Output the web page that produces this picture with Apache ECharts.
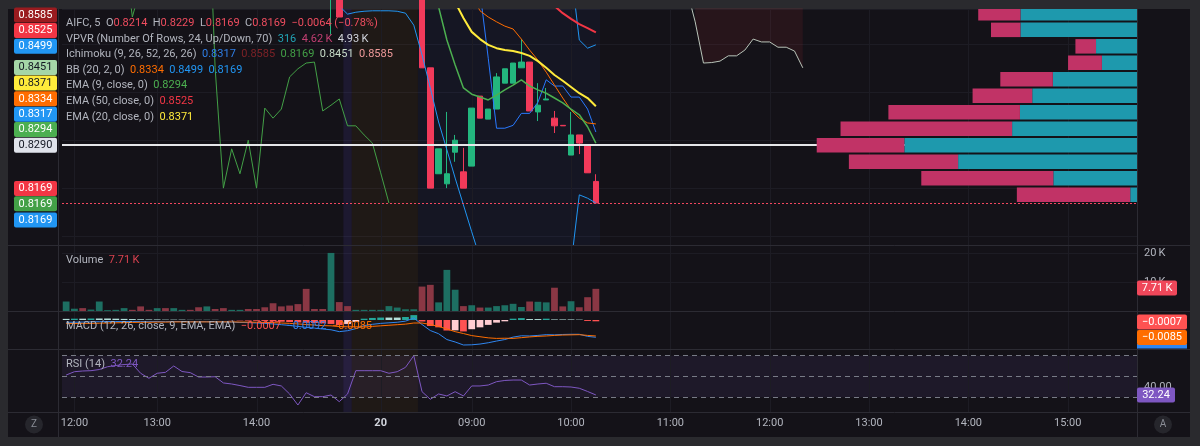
<!DOCTYPE html>
<html>
<head>
<meta charset="utf-8">
<title>AIFC, 5</title>
<script src="https://cdn.jsdelivr.net/npm/echarts@6.0.0/dist/echarts.min.js"></script>
<style>
html,body{margin:0;padding:0;background:#2a2a2e;overflow:hidden;}
#chart{width:1200px;height:446px;}
</style>
</head>
<body>
<div id="chart"></div>
<script>
// ================= DATA =================
// time axis (bar slots, 5-minute bars)
const slotCount = 130;
const tickIndex = [1, 11, 23, 38, 49, 61, 73, 85, 97, 109, 121];
const tickLabel = ['12:00', '13:00', '14:00', '20', '09:00', '10:00', '11:00', '12:00', '13:00', '14:00', '15:00'];

// candles that reach the visible price range (bar index + OHLC)
const candleIndex = [32, 33, 43, 44, 45, 46, 47, 48, 49, 50, 51, 52, 53, 54, 55, 56, 57, 58, 59, 60, 61, 62, 63, 64];
const candleOpen  = [0.8610, 0.8700, 0.8900, 0.8451, 0.8230, 0.8209, 0.8275, 0.8234, 0.8246, 0.8392, 0.8344, 0.8365, 0.8419, 0.8419, 0.8451, 0.8463, 0.8359, 0.8384, 0.8346, 0.8331, 0.8269, 0.8311, 0.8290, 0.8214];
const candleHigh  = [0.8720, 0.8710, 0.8900, 0.8451, 0.8282, 0.8359, 0.8311, 0.8284, 0.8367, 0.8392, 0.8365, 0.8440, 0.8449, 0.8461, 0.8511, 0.8463, 0.8419, 0.8409, 0.8361, 0.8331, 0.8359, 0.8311, 0.8290, 0.8229];
const candleLow   = [0.8520, 0.8557, 0.8451, 0.8200, 0.8230, 0.8200, 0.8255, 0.8200, 0.8246, 0.8346, 0.8344, 0.8365, 0.8419, 0.8419, 0.8451, 0.8361, 0.8340, 0.8384, 0.8315, 0.8330, 0.8269, 0.8271, 0.8232, 0.8169];
const candleClose = [0.8700, 0.8557, 0.8451, 0.8200, 0.8282, 0.8230, 0.8300, 0.8200, 0.8367, 0.8346, 0.8365, 0.8432, 0.8449, 0.8461, 0.8463, 0.8361, 0.8373, 0.8386, 0.8330, 0.8330, 0.8311, 0.8294, 0.8232, 0.8169];

// volume per bar (bars 0..64) and direction (1 = up bar)
const volume = [3300, 800, 1000, 500, 3300, 300, 400, 1000, 400, 1600,
  400, 1000, 1000, 1000, 400, 400, 1300, 1600, 700, 1000,
  400, 400, 700, 700, 1300, 2700, 1600, 1900, 2400, 7700,
  700, 700, 20200, 3100, 1700, 400, 400, 400, 400, 1700,
  1200, 600, 600, 8500, 9100, 3000, 14300, 7400, 1700, 2000,
  1200, 1200, 1700, 2000, 2500, 1400, 3300, 3200, 3000, 8100,
  1600, 3400, 1300, 4800, 7710];
const volumeUp = [1, 1, 0, 1, 1, 1, 1, 1, 0, 0,
  0, 1, 0, 1, 1, 0, 0, 1, 0, 0,
  1, 1, 0, 0, 0, 0, 0, 0, 0, 0,
  0, 0, 1, 0, 0, 1, 1, 1, 1, 1,
  1, 1, 1, 0, 0, 1, 1, 1, 0, 1,
  0, 1, 1, 1, 1, 1, 0, 1, 1, 0,
  0, 1, 0, 0, 0];

// overlays (start bar index + values)
const ema9Start = 44;
const ema9 = [0.8650, 0.8578, 0.8509, 0.8457, 0.8409, 0.8396, 0.8390, 0.8384, 0.8394, 0.8405, 0.8415, 0.8426, 0.8413, 0.8405, 0.8398, 0.8388, 0.8378, 0.8365, 0.8353, 0.8328, 0.8294];
const ema20Start = 45;
const ema20 = [0.8666, 0.8624, 0.8588, 0.8555, 0.8526, 0.8511, 0.8499, 0.8492, 0.8488, 0.8486, 0.8482, 0.8476, 0.8465, 0.8451, 0.8436, 0.8424, 0.8411, 0.8398, 0.8388, 0.8371];
const ema50Start = 57;
const ema50 = [0.8607, 0.8595, 0.8580, 0.8565, 0.8553, 0.8542, 0.8534, 0.8525];
const bbBasisStart = 48;
const bbBasis = [0.8655, 0.8603, 0.8570, 0.8557, 0.8547, 0.8538, 0.8532, 0.8511, 0.8488, 0.8467, 0.8442, 0.8415, 0.8388, 0.8363, 0.8346, 0.8336, 0.8334];
const bbUpperStart = 61;
const bbUpper = [0.8655, 0.8509, 0.8492, 0.8499];
const bbLowerStart = 33;
const bbLower = [0.8580, 0.8563, 0.8567, 0.8569, 0.8570, 0.8570, 0.8570, 0.8569, 0.8565, 0.8540,
  0.8478, 0.8409, 0.8338, 0.8280, 0.8221, 0.8165, 0.8109, 0.8054, 0.8010, 0.7990,
  0.7985, 0.7990, 0.8000, 0.8010, 0.8015, 0.8020, 0.8025, 0.8030, 0.8040, 0.8186,
  0.8179, 0.8169];
const convStart = 50;
const conversion = [0.8610, 0.8471, 0.8325, 0.8325, 0.8331, 0.8356, 0.8356, 0.8379, 0.8426, 0.8413, 0.8413, 0.8390, 0.8390, 0.8365, 0.8317];
const lagStart = 0;
const lagSpan = [0.8620, 0.8620, 0.8620, 0.8620, 0.8620, 0.8620, 0.8620, 0.8700, 0.8557,
  0.8620, 0.8620, 0.8620, 0.8620, 0.8620, 0.8620, 0.8620, 0.8620, 0.8900,
  0.8451, 0.8200, 0.8282, 0.8230, 0.8300, 0.8200, 0.8367, 0.8346, 0.8365, 0.8432, 0.8449,
  0.8461, 0.8463, 0.8361, 0.8373, 0.8386, 0.8330, 0.8330, 0.8311, 0.8294, 0.8232, 0.8169];
const leadStart = 75;
const leadA = [0.8614, 0.8547, 0.8461, 0.8462, 0.8465, 0.8476, 0.8476, 0.8488, 0.8511, 0.8505, 0.8505, 0.8494, 0.8494, 0.8486, 0.8451];
const leadB = [0.8585, 0.8585, 0.8585, 0.8585, 0.8585, 0.8585, 0.8585, 0.8585, 0.8585, 0.8585, 0.8585, 0.8585, 0.8585, 0.8585, 0.8585];

// volume profile (visible rows, bottom to top)
const vpRowBase = 0.8169;
const vpRowStep = 0.00344;
const vpUp   = [316, 3450, 7330, 9520, 5130, 4810, 4310, 3470, 1470, 1710, 4790, 4790];
const vpDown = [4620, 5380, 4450, 3570, 6990, 5360, 2430, 2140, 1380, 840, 1200, 1720];
const vpPoc = 0.8290;

// MACD (12, 26, 9) per bar 0..64
const macdLine = [-0.0012, -0.0012, -0.0011, -0.0010, -0.0009, -0.0008, -0.0008, -0.0008, -0.0008, -0.0008,
  -0.0009, -0.0008, -0.0009, -0.0008, -0.0008, -0.0009, -0.0009, -0.0009, -0.0009, -0.0010,
  -0.0011, -0.0013, -0.0014, -0.0016, -0.0018, -0.0021, -0.0025, -0.0029, -0.0034, -0.0039,
  -0.0043, -0.0048, -0.0052, -0.0062, -0.0057, -0.0046, -0.0030, -0.0023, -0.0018, -0.0015,
  -0.0012, -0.0006, 0.0010, -0.0024, -0.0056, -0.0073, -0.0104, -0.0117, -0.0133, -0.0132,
  -0.0128, -0.0121, -0.0112, -0.0104, -0.0091, -0.0084, -0.0085, -0.0082, -0.0078, -0.0079,
  -0.0077, -0.0076, -0.0076, -0.0087, -0.0092];
const macdSignal = [-0.0018, -0.0019, -0.0018, -0.0018, -0.0017, -0.0016, -0.0015, -0.0014, -0.0013, -0.0012,
  -0.0012, -0.0011, -0.0011, -0.0010, -0.0010, -0.0010, -0.0010, -0.0010, -0.0010, -0.0010,
  -0.0010, -0.0011, -0.0011, -0.0012, -0.0013, -0.0014, -0.0016, -0.0018, -0.0021, -0.0024,
  -0.0027, -0.0030, -0.0031, -0.0035, -0.0036, -0.0036, -0.0037, -0.0034, -0.0031, -0.0028,
  -0.0025, -0.0022, -0.0016, -0.0016, -0.0024, -0.0034, -0.0048, -0.0062, -0.0072, -0.0083,
  -0.0089, -0.0095, -0.0098, -0.0097, -0.0098, -0.0094, -0.0090, -0.0087, -0.0085, -0.0082,
  -0.0080, -0.0079, -0.0078, -0.0082, -0.0085];
const macdHist = [0.0006, 0.0007, 0.0007, 0.0008, 0.0008, 0.0008, 0.0007, 0.0006, 0.0005, 0.0004,
  0.0003, 0.0003, 0.0002, 0.0002, 0.0002, 0.0001, 0.0001, 0.0001, 0.0001, 0.0000,
  -0.0001, -0.0002, -0.0003, -0.0004, -0.0005, -0.0007, -0.0009, -0.0011, -0.0013, -0.0015,
  -0.0016, -0.0018, -0.0021, -0.0027, -0.0021, -0.0010, 0.0007, 0.0011, 0.0013, 0.0013,
  0.0013, 0.0016, 0.0026, -0.0008, -0.0032, -0.0039, -0.0056, -0.0055, -0.0061, -0.0049,
  -0.0039, -0.0026, -0.0014, -0.0007, 0.0007, 0.0010, 0.0005, 0.0005, 0.0007, 0.0003,
  0.0003, 0.0003, 0.0002, -0.0005, -0.0007];

// RSI (14) per bar 0..64
const rsi = [51.4, 54.6, 55.3, 55.6, 56.7, 59.4, 60.6, 61.5, 62.0, 53.1,
  48.3, 53.1, 54.0, 60.1, 54.8, 53.7, 49.5, 49.5, 49.8, 43.8,
  42.8, 41.3, 39.6, 39.6, 39.6, 42.5, 40.9, 33.2, 22.6, 34.4,
  30.6, 30.6, 32.2, 25.8, 33.2, 55.6, 55.6, 55.6, 55.6, 53.1,
  54.6, 58.8, 70.0, 35.4, 28.1, 33.2, 31.3, 35.4, 31.3, 40.9,
  40.9, 41.8, 45.0, 46.2, 46.6, 46.6, 41.8, 42.8, 43.5, 40.2,
  40.2, 39.9, 38.7, 35.6, 32.24];
const rsiLevels = [70, 50, 30];

// sessions (extended hours shading)
const sessionStart = [34, 35, 43];
const sessionEnd = [34, 42, 64];
const sessionKind = ['post', 'pre', 'regular'];

// axis ranges
const priceMin = 0.808138, priceMax = 0.857372;
const volMax = 22960;
const macdMin = -0.01543, macdMax = 0.00479;
const rsiMin = 15.87, rsiMax = 76.44;
const vpXMax = 43840;

// ================= STYLE =================
const FONT = 'Roboto, "Noto Sans", "Liberation Sans", sans-serif';
const COL = {
  frame: '#2a2a2e', bg: '#141218', sep: '#2c2b33', grid: '#1d1c24', text: '#b2b5be',
  up: '#23b67e', down: '#f23a5a', volUp: '#1d6f62', volDown: '#8a3744',
  vpUp: '#1e99ad', vpDown: '#c13366'
};
const sessionFill = { post: 'rgba(94,80,220,0.13)', pre: 'rgba(255,152,0,0.05)', regular: 'rgba(60,100,255,0.05)' };

// ================= BUILD =================
const cats = Array.from({ length: slotCount }, (_, i) => String(i));
function place(start, vals) {
  const a = new Array(slotCount).fill('-');
  vals.forEach((v, k) => { a[start + k] = v; });
  return a;
}
const L = 62, R = 62;
const grids = [
  { left: L, right: R, top: 9, height: 236 },
  { left: L, right: R, top: 245, height: 66 },
  { left: L, right: R, top: 311, height: 38 },
  { left: L, right: R, top: 349, height: 63 },
  { left: L, right: R, top: 9, height: 236 }
].map(g => Object.assign({ outerBoundsMode: 'none', containLabel: false, show: false }, g));

function catAxis(g, showLabel) {
  return {
    type: 'category', gridIndex: g, data: cats, boundaryGap: true,
    axisLine: { show: false }, axisTick: { show: false }, splitLine: { show: false },
    axisLabel: showLabel ? {
      show: true, color: COL.text, fontSize: 11, fontFamily: FONT, margin: 6,
      interval: (index) => tickIndex.indexOf(index) >= 0,
      formatter: (value) => {
        const k = tickIndex.indexOf(Number(value));
        if (k < 0) return '';
        return tickLabel[k] === '20' ? '{d|20}' : tickLabel[k];
      },
      rich: { d: { color: '#d1d4dc', fontWeight: 'bold', fontSize: 11, fontFamily: FONT } }
    } : { show: false }
  };
}

function sessionSeries(g, withRegular) {
  const data = [];
  sessionStart.forEach((s, k) => {
    if (withRegular || sessionKind[k] !== 'regular') data.push([s, sessionEnd[k], k]);
  });
  return {
    type: 'custom', xAxisIndex: g, yAxisIndex: g, silent: true, z: 0, data,
    renderItem(params, api) {
      const s = api.value(0), e = api.value(1), k = api.value(2);
      const w = api.size([1, 0])[0];
      const x0 = api.coord([s, 0])[0] - w / 2;
      const x1 = api.coord([e, 0])[0] + w / 2;
      const cs = params.coordSys;
      return { type: 'rect', shape: { x: x0, y: cs.y, width: x1 - x0, height: cs.height }, style: { fill: sessionFill[sessionKind[k]] } };
    }
  };
}
function hourGridSeries(g) {
  return {
    type: 'custom', xAxisIndex: g, yAxisIndex: g, silent: true, z: 1,
    data: tickIndex.map(i => [i, 0]),
    renderItem(params, api) {
      const x = Math.round(api.coord([api.value(0), 0])[0]) + 0.5;
      const cs = params.coordSys;
      return { type: 'line', shape: { x1: x, y1: cs.y, x2: x, y2: cs.y + cs.height }, style: { stroke: COL.grid, lineWidth: 1 } };
    }
  };
}
function lineSeries(start, vals, color, width, z) {
  return {
    type: 'line', xAxisIndex: 0, yAxisIndex: 0, data: place(start, vals), symbol: 'none', showSymbol: false,
    lineStyle: { color, width }, itemStyle: { color }, z: z || 4, silent: true, clip: true
  };
}

const kumoBase = leadA.map((a, k) => (leadB[k] >= a ? a : '-'));
const kumoFill = leadA.map((a, k) => (leadB[k] >= a ? +(leadB[k] - a).toFixed(5) : '-'));

const candleData = candleIndex.map((x, k) => [x, candleOpen[k], candleClose[k], candleLow[k], candleHigh[k]]);
const lastClose = candleClose[candleClose.length - 1];

const histColor = macdHist.map((h, k) => {
  const p = k > 0 ? macdHist[k - 1] : h;
  if (h >= 0) return p < h ? '#26a69a' : '#b2dfdb';
  return p < h ? '#ffcdd2' : '#ff5252';
});

const vpData = vpUp.map((u, k) => [vpRowBase + k * vpRowStep, u, vpDown[k]]);

const series = [
  sessionSeries(0, true), sessionSeries(1, false), sessionSeries(2, false), sessionSeries(3, false),
  hourGridSeries(0), hourGridSeries(1), hourGridSeries(2), hourGridSeries(3),
  // Ichimoku cloud (between leading spans)
  { type: 'line', xAxisIndex: 0, yAxisIndex: 0, stack: 'kumo', data: place(leadStart, kumoBase), symbol: 'none', lineStyle: { opacity: 0 }, silent: true, z: 1 },
  { type: 'line', xAxisIndex: 0, yAxisIndex: 0, stack: 'kumo', data: place(leadStart, kumoFill), symbol: 'none', lineStyle: { opacity: 0 }, areaStyle: { color: 'rgba(242,54,69,0.12)' }, silent: true, z: 1 },
  lineSeries(leadStart, leadA, '#b9c4b9', 1),
  lineSeries(leadStart, leadB, '#ef9a9a', 1),
  lineSeries(lagStart, lagSpan, '#43a047', 1),
  lineSeries(convStart, conversion, '#2979ff', 1),
  lineSeries(bbLowerStart, bbLower, '#2196f3', 1),
  lineSeries(bbUpperStart, bbUpper, '#2196f3', 1),
  lineSeries(bbBasisStart, bbBasis, '#ff6d00', 1),
  lineSeries(ema50Start, ema50, '#f23645', 2),
  lineSeries(ema20Start, ema20, '#ffeb3b', 2),
  lineSeries(ema9Start, ema9, '#4caf50', 1.5),
  {
    type: 'candlestick', xAxisIndex: 0, yAxisIndex: 0, data: candleData, encode: { x: 0, y: [1, 2, 3, 4] },
    barWidth: '72%', clip: true, z: 3, silent: true,
    itemStyle: { color: COL.up, color0: COL.down, borderColor: COL.up, borderColor0: COL.down, borderWidth: 1 },
    markLine: {
      silent: true, symbol: 'none', precision: 5, label: { show: false },
      lineStyle: { color: '#f2475f', type: [2, 2], width: 1, opacity: 1 },
      data: [{ yAxis: lastClose }]
    }
  },
  {
    type: 'custom', xAxisIndex: 4, yAxisIndex: 4, data: vpData, z: 6, silent: true,
    encode: { y: 0, x: 1 },
    renderItem(params, api) {
      const low = api.value(0), up = api.value(1), dn = api.value(2);
      const yTop = api.coord([0, low + vpRowStep])[1] + 1;
      const yBot = api.coord([0, low])[1] - 1;
      const x0 = api.coord([0, low])[0];
      const x1 = api.coord([up, low])[0];
      const x2 = api.coord([up + dn, low])[0];
      const c = params.coordSys;
      const cs = { x: c.x, y: c.y, width: c.width, height: c.height };
      const r1 = echarts.graphic.clipRectByRect({ x: x1, y: yTop, width: x0 - x1, height: yBot - yTop }, cs);
      const r2 = echarts.graphic.clipRectByRect({ x: x2, y: yTop, width: x1 - x2, height: yBot - yTop }, cs);
      const children = [];
      if (r1) children.push({ type: 'rect', shape: r1, style: { fill: COL.vpUp } });
      if (r2) children.push({ type: 'rect', shape: r2, style: { fill: COL.vpDown } });
      return { type: 'group', children };
    },
    markLine: {
      silent: true, symbol: 'none', precision: 5, label: { show: false },
      lineStyle: { color: '#e6e7ea', type: 'solid', width: 2 },
      data: [{ yAxis: vpPoc }]
    }
  },
  // volume
  {
    type: 'bar', xAxisIndex: 1, yAxisIndex: 1, barWidth: '82%', silent: true, z: 3,
    data: volume.map((v, k) => ({ value: v, itemStyle: { color: volumeUp[k] ? COL.volUp : COL.volDown } }))
  },
  // MACD
  {
    type: 'bar', xAxisIndex: 2, yAxisIndex: 2, barWidth: '82%', silent: true, z: 3,
    data: macdHist.map((v, k) => ({ value: v, itemStyle: { color: histColor[k] } }))
  },
  { type: 'line', xAxisIndex: 2, yAxisIndex: 2, data: macdLine, symbol: 'none', lineStyle: { color: '#2f86f0', width: 1 }, silent: true, z: 4 },
  { type: 'line', xAxisIndex: 2, yAxisIndex: 2, data: macdSignal, symbol: 'none', lineStyle: { color: '#ff6d00', width: 1 }, silent: true, z: 4 },
  // RSI
  {
    type: 'line', xAxisIndex: 3, yAxisIndex: 3, data: rsi, symbol: 'none', lineStyle: { color: '#7e57c2', width: 1 }, silent: true, z: 4,
    markLine: {
      silent: true, symbol: 'none', precision: 2, label: { show: false },
      lineStyle: { color: '#787b86', type: [5, 4], width: 1 },
      data: rsiLevels.map(v => ({ yAxis: v }))
    },
    markArea: {
      silent: true, itemStyle: { color: 'rgba(126,87,194,0.10)' },
      data: [[{ yAxis: rsiLevels[2] }, { yAxis: rsiLevels[0] }]]
    }
  }
];

// ================= OVERLAY TEXT =================
const graphics = [];
graphics.push({ type: 'rect', z: -10, silent: true, shape: { x: 8, y: 9, width: 1182, height: 428 }, style: { fill: COL.bg } });
[245, 311, 349, 412].forEach(y => graphics.push({ type: 'line', z: 50, silent: true, shape: { x1: 8, y1: y + 0.5, x2: 1190, y2: y + 0.5 }, style: { stroke: COL.sep, lineWidth: 1 } }));
[58, 1137].forEach(x => graphics.push({ type: 'line', z: 50, silent: true, shape: { x1: x + 0.5, y1: 9, x2: x + 0.5, y2: 437 }, style: { stroke: COL.sep, lineWidth: 1 } }));

function richLine(x, y, parts) {
  const rich = {};
  let text = '';
  parts.forEach((p, k) => {
    rich['p' + k] = { fill: p[1], font: '11px ' + FONT };
    text += '{p' + k + '|' + p[0] + '}';
  });
  graphics.push({ type: 'text', x, y, z: 100, silent: true, style: { text, rich, font: '11px ' + FONT, fill: COL.text, verticalAlign: 'middle' } });
}
const G = COL.text, RED = '#ef4d5f';
richLine(66, 23.3, [['AIFC, 5  O', G], ['0.8214', RED], ['  H', G], ['0.8229', RED], ['  L', G], ['0.8169', RED], ['  C', G], ['0.8169', RED], ['  \u22120.0064 (\u22120.78%)', RED]]);
richLine(66, 39, [['VPVR (Number Of Rows, 24, Up/Down, 70)', G], ['  316', '#22a3b5'], ['  4.62\u2009K', '#c23f72'], ['  4.93\u2009K', '#d1d4dc']]);
richLine(66, 54.5, [['Ichimoku (9, 26, 52, 26, 26)', G], ['  0.8317', '#2f7fe8'], ['  0.8585', '#7d2227'], ['  0.8169', '#43a047'], ['  0.8451', '#c8dcc8'], ['  0.8585', '#ef9a9a']]);
richLine(66, 70, [['BB (20, 2, 0)', G], ['  0.8334', '#ff6d00'], ['  0.8499', '#2196f3'], ['  0.8169', '#2196f3']]);
richLine(66, 85.7, [['EMA (9, close, 0)', G], ['  0.8294', '#4caf50']]);
richLine(66, 101.2, [['EMA (50, close, 0)', G], ['  0.8525', '#f23645']]);
richLine(66, 116.8, [['EMA (20, close, 0)', G], ['  0.8371', '#ffeb3b']]);
richLine(66, 260, [['Volume', G], ['  7.71\u2009K', '#d9424f']]);
richLine(66, 326, [['MACD (12, 26, close, 9, EMA, EMA)', G], ['  \u22120.0007', '#ff5252'], ['  \u22120.0092', '#2f80ed'], ['  \u22120.0085', '#ff6d00']]);
richLine(66, 364, [['RSI (14)', G], ['  32.24', '#7e57c2']]);

function badge(x, yc, w, text, bg, fg) {
  graphics.push({ type: 'rect', z: 100, silent: true, shape: { x, y: yc - 7.5, width: w, height: 15, r: 2 }, style: { fill: bg } });
  graphics.push({ type: 'text', z: 101, silent: true, x: x + w / 2, y: yc, style: { text, align: 'center', verticalAlign: 'middle', fill: fg, font: '11px ' + FONT } });
}
const leftBadgeText = ['0.8585', '0.8525', '0.8499', '0.8451', '0.8371', '0.8334', '0.8317', '0.8294', '0.8290', '0.8169', '0.8169', '0.8169'];
const leftBadgeY = [15, 30.5, 46.3, 67.5, 83, 98.8, 114.2, 129.5, 145.2, 188.5, 203.8, 220];
const leftBadgeBg = ['#9a1b1f', '#f23645', '#2196f3', '#a5d6a7', '#ffeb3b', '#ff6d00', '#2196f3', '#4caf50', '#e0e3eb', '#f23645', '#43a047', '#2196f3'];
const leftBadgeFg = ['#ffffff', '#ffffff', '#ffffff', '#131722', '#131722', '#ffffff', '#ffffff', '#ffffff', '#131722', '#ffffff', '#ffffff', '#ffffff'];
leftBadgeText.forEach((t, k) => badge(14, leftBadgeY[k], 43, t, leftBadgeBg[k], leftBadgeFg[k]));

badge(1137, 288, 40, '7.71\u2009K', '#f0475a', '#ffffff');
badge(1137, 322, 50, '\u22120.0007', '#ff5252', '#ffffff');
graphics.push({ type: 'rect', z: 99, silent: true, shape: { x: 1137, y: 344, width: 50, height: 4.5 }, style: { fill: '#2f86f0' } });
badge(1137, 337.5, 50, '\u22120.0085', '#ff6d00', '#ffffff');
badge(1137, 395, 38, '32.24', '#7e57c2', '#ffffff');

[[34, 'Z'], [1163, 'A']].forEach(b => {
  graphics.push({ type: 'circle', z: 100, silent: true, shape: { cx: b[0], cy: 424.5, r: 9 }, style: { fill: '#26262c' } });
  graphics.push({ type: 'text', z: 101, silent: true, x: b[0], y: 424.5, style: { text: b[1], align: 'center', verticalAlign: 'middle', fill: '#8a8d96', font: '10px ' + FONT } });
});

// ================= OPTION =================
const chart = echarts.init(document.getElementById('chart'), null, { renderer: 'canvas' });
chart.setOption({
  animation: false,
  backgroundColor: COL.frame,
  textStyle: { fontFamily: FONT },
  grid: grids,
  xAxis: [
    catAxis(0, false), catAxis(1, false), catAxis(2, false), catAxis(3, true),
    { type: 'value', gridIndex: 4, min: 0, max: vpXMax, inverse: true, show: false }
  ],
  yAxis: [
    { type: 'value', gridIndex: 0, min: priceMin, max: priceMax, axisLine: { show: false }, axisTick: { show: false }, axisLabel: { show: false }, splitLine: { show: true, lineStyle: { color: COL.grid, width: 1 } } },
    {
      type: 'value', gridIndex: 1, position: 'right', min: 0, max: volMax, interval: 10000,
      axisLine: { show: false }, axisTick: { show: false },
      axisLabel: { show: true, color: COL.text, fontSize: 11, fontFamily: FONT, margin: 6, formatter: v => (v === 10000 || v === 20000 ? (v / 1000) + '\u2009K' : '') },
      splitLine: { show: true, lineStyle: { color: COL.grid, width: 1 } }
    },
    { type: 'value', gridIndex: 2, position: 'right', min: macdMin, max: macdMax, axisLine: { show: false }, axisTick: { show: false }, axisLabel: { show: false }, splitLine: { show: false } },
    {
      type: 'value', gridIndex: 3, position: 'right', min: rsiMin, max: rsiMax,
      axisLine: { show: false }, axisTick: { show: false }, splitLine: { show: false },
      axisLabel: { show: true, customValues: [40], color: COL.text, fontSize: 11, fontFamily: FONT, margin: 6, formatter: v => Number(v).toFixed(2) }
    },
    { type: 'value', gridIndex: 4, min: priceMin, max: priceMax, show: false }
  ],
  series,
  graphic: graphics
});
</script>
</body>
</html>
